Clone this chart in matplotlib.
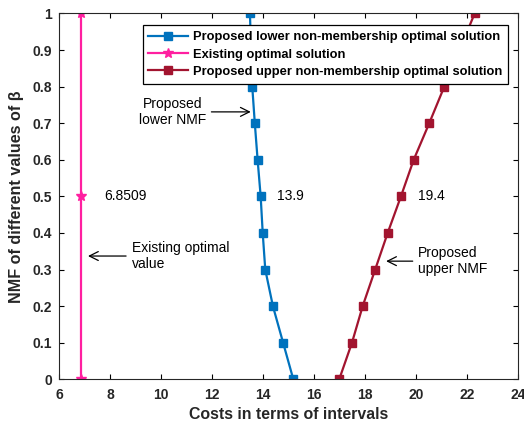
import matplotlib
matplotlib.use("Agg")
import matplotlib.pyplot as plt

plt.rcParams['font.family'] = ['Liberation Sans', 'DejaVu Sans']

beta = [0.0, 0.1, 0.2, 0.3, 0.4, 0.5, 0.6, 0.7, 0.8, 0.9, 1.0]
lower_nmf = [15.18, 14.78, 14.38, 14.08, 13.98, 13.9, 13.78, 13.67, 13.57, 13.52, 13.48]
upper_nmf = [16.98, 17.48, 17.9, 18.39, 18.88, 19.4, 19.9, 20.51, 21.1, 21.7, 22.29]
existing_beta = [0.0, 0.5, 1.0]
existing_value = [6.8509, 6.8509, 6.8509]

blue = '#0072BD'
pink = '#FF1FA0'
red = '#A2142F'

fig = plt.figure(figsize=(5.24, 4.21), dpi=100)
ax = fig.add_axes([0.113, 0.099, 0.876, 0.869])

ax.plot(lower_nmf, beta, '-s', color=blue, lw=1.6, ms=5.5,
        label='Proposed lower non-membership optimal solution')
ax.plot(existing_value, existing_beta, '-*', color=pink, lw=1.6, ms=7.5,
        label='Existing optimal solution')
ax.plot(upper_nmf, beta, '-s', color=red, lw=1.6, ms=5.5,
        label='Proposed upper non-membership optimal solution')

ax.set_xlim(6, 24)
ax.set_ylim(0, 1)
ax.set_xticks(range(6, 25, 2))
ax.set_yticks([0, 0.1, 0.2, 0.3, 0.4, 0.5, 0.6, 0.7, 0.8, 0.9, 1])
ax.set_yticklabels(['0', '0.1', '0.2', '0.3', '0.4', '0.5', '0.6', '0.7', '0.8', '0.9', '1'])
ax.tick_params(direction='in', top=True, right=True, length=3.6, width=0.8,
               labelsize=10, labelcolor='#262626')
ax.tick_params(axis='x', pad=6)
ax.tick_params(axis='y', pad=5)
for lbl in ax.get_xticklabels() + ax.get_yticklabels():
    lbl.set_fontweight('bold')
for sp in ax.spines.values():
    sp.set_linewidth(0.8)
    sp.set_color('#262626')

ax.set_xlabel('Costs in terms of intervals', fontsize=11.4, fontweight='bold',
              labelpad=4, color='#262626')
ax.set_ylabel('NMF of different values of β', fontsize=11.6, fontweight='bold',
              labelpad=6, color='#262626')

# value labels
ax.text(7.75, 0.5, f'{existing_value[1]:.4f}', fontsize=10, va='center')
ax.text(14.55, 0.5, f'{lower_nmf[5]:.1f}', fontsize=10, va='center')
ax.text(20.05, 0.5, f'{upper_nmf[5]:.1f}', fontsize=10, va='center')

arrow = dict(arrowstyle='->', color='black', lw=0.9, mutation_scale=16)
ax.annotate('Proposed\nlower NMF', xy=(13.62, 0.731), xytext=(11.75, 0.731),
            ha='right', va='center', fontsize=10, arrowprops=arrow,
            multialignment='center')
ax.annotate('Existing optimal\nvalue', xy=(7.02, 0.337), xytext=(8.84, 0.337),
            ha='left', va='center', fontsize=10, arrowprops=arrow,
            multialignment='left')
ax.annotate('Proposed\nupper NMF', xy=(18.71, 0.323), xytext=(20.08, 0.323),
            ha='left', va='center', fontsize=10, arrowprops=arrow,
            multialignment='left')

leg = ax.legend(loc='upper right', bbox_to_anchor=(0.9776, 0.968),
                prop={'weight': 'bold', 'size': 9.3}, fancybox=False,
                edgecolor='black', framealpha=1, handlelength=3.1,
                borderpad=0.45, labelspacing=0.42, handletextpad=0.35,
                borderaxespad=0)
leg.get_frame().set_linewidth(0.9)

fig.savefig('out.png', dpi=100)
